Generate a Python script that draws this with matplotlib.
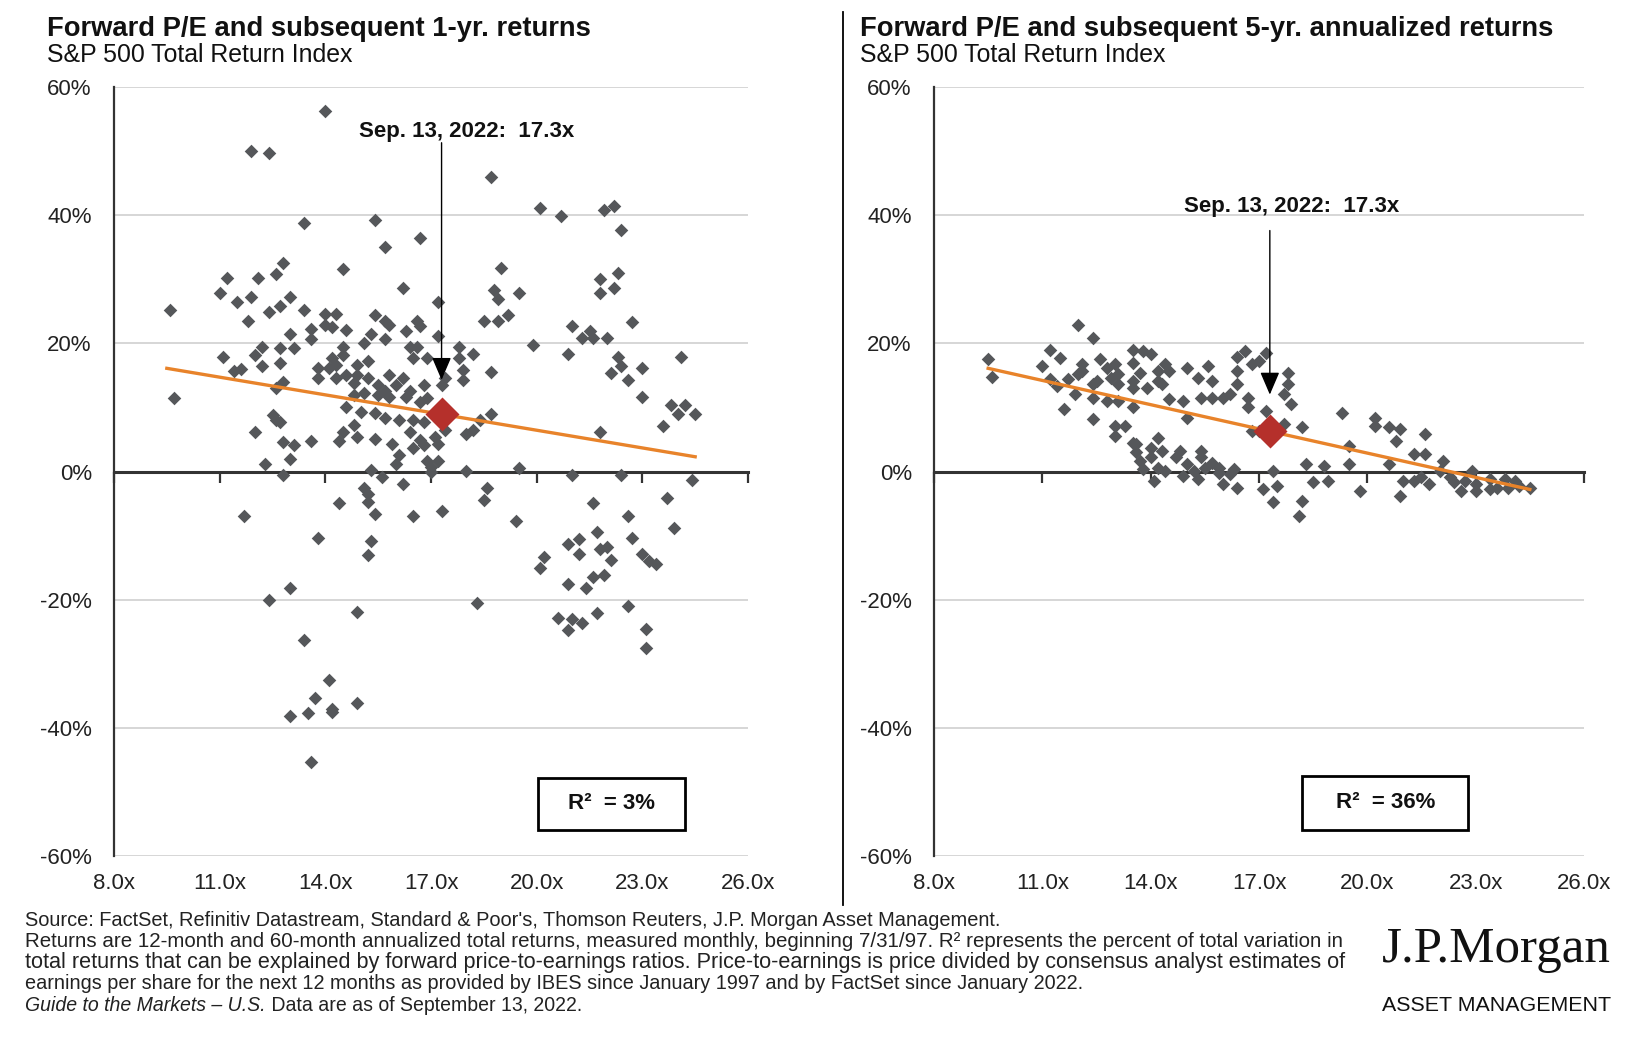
import matplotlib
matplotlib.use('Agg')
import matplotlib.pyplot as plt
from matplotlib import font_manager
from matplotlib.patches import Rectangle
from matplotlib.lines import Line2D

plt.rcParams['font.family'] = ['Liberation Sans', 'DejaVu Sans']

# forward P/E vs subsequent 1-yr return (%)
pe_1yr = [14.0, 11.9, 12.4, 18.7, 20.1, 20.7, 21.9, 22.2, 22.4, 13.4, 15.4, 16.7, 15.7, 14.5,
          12.8, 12.6, 12.1, 11.2, 11.0, 11.5, 11.9, 13.0, 12.7, 12.4, 13.4, 11.8, 9.6, 9.7,
          16.2, 19.0, 18.8, 18.9, 19.5, 22.3, 21.8, 22.2, 21.8, 18.5, 18.9, 19.2, 22.7, 21.0,
          21.5, 21.3, 22.0, 21.6, 19.9, 20.9, 22.3, 22.4, 22.1, 23.0, 22.6, 24.1, 23.0, 23.8,
          24.2, 24.0, 24.5, 23.6, 21.8, 24.4, 22.4, 21.0, 19.5, 18.0, 18.6, 18.7, 18.7, 18.2,
          17.8, 17.8, 17.9, 17.9, 17.2, 17.2, 16.6, 16.7, 16.3, 16.4, 16.6, 16.5, 16.9, 15.4,
          15.7, 15.8, 15.3, 15.7, 15.1, 14.6, 14.0, 14.3, 14.0, 14.2, 13.6, 13.6, 13.0, 13.1,
          12.7, 12.2, 12.0, 12.2, 12.7, 11.1, 11.4, 11.6, 12.6, 12.8, 14.5, 14.5, 14.2, 13.8,
          13.8, 14.1, 14.3, 14.3, 14.6, 14.9, 15.2, 14.9, 14.8, 15.2, 15.5, 15.8, 16.2, 16.0,
          15.7, 16.4, 16.8, 17.3, 17.4, 14.8, 15.1, 15.5, 15.8, 16.3, 16.7, 16.9, 14.6, 15.0,
          15.4, 15.7, 16.1, 16.5, 16.8, 14.8, 14.5, 14.9, 15.4, 15.9, 16.4, 16.7, 17.1, 17.4,
          18.0, 18.2, 18.4, 16.5, 16.8, 17.2, 16.1, 16.0, 16.9, 17.2, 17.0, 17.0, 15.3, 15.6,
          15.1, 16.2, 12.8, 13.0, 12.3, 13.1, 12.8, 13.6, 12.0, 14.4, 12.5, 12.6, 12.7,
          15.2, 15.2, 14.4, 15.4, 16.5, 17.3, 18.5, 19.4, 11.7, 21.6, 23.7, 22.6, 23.9, 13.8,
          15.3, 15.2, 20.9, 21.2, 21.2, 21.7, 21.8, 22.0, 22.1, 22.7, 23.0, 23.2, 23.4, 20.2,
          20.1, 20.9, 21.4, 21.6, 21.9, 13.0, 12.4, 18.3, 14.9, 20.6, 21.0, 21.3, 20.9, 21.7,
          22.6, 23.1, 23.1, 13.4, 14.1, 13.7, 13.5, 13.0, 14.2, 14.2, 14.9, 13.6]
ret_1yr = [56.3, 50.0, 49.7, 46.0, 41.1, 39.9, 40.8, 41.4, 37.7, 38.7, 39.2, 36.5, 35.1, 31.6,
           32.5, 30.8, 30.2, 30.2, 27.9, 26.5, 27.3, 27.3, 25.8, 24.9, 25.2, 23.5, 25.2, 11.5,
           28.7, 31.8, 28.3, 26.9, 27.9, 31.0, 30.0, 28.7, 27.9, 23.5, 23.5, 24.4, 23.3, 22.7,
           21.9, 20.8, 20.8, 20.8, 19.8, 18.3, 17.8, 16.5, 15.4, 16.2, 14.3, 17.8, 11.7, 10.3,
           10.4, 8.9, 8.9, 7.1, 6.1, -1.3, -0.6, -0.6, 0.6, 0.1, -2.6, 8.9, 15.5, 18.3,
           19.5, 17.7, 15.9, 14.3, 26.5, 21.2, 23.5, 22.7, 21.9, 19.5, 19.5, 17.7, 17.7, 24.4,
           23.5, 22.9, 21.5, 20.6, 20.1, 22.1, 24.5, 24.6, 22.9, 22.5, 22.3, 20.6, 21.5, 19.3,
           19.3, 19.4, 18.2, 16.5, 16.9, 17.8, 15.7, 16.0, 13.0, 14.0, 19.5, 18.2, 17.7, 16.1,
           14.6, 16.1, 16.6, 14.6, 15.1, 16.6, 17.2, 15.1, 13.8, 14.6, 13.5, 15.1, 14.6, 13.5,
           12.5, 12.5, 13.5, 13.5, 14.6, 11.9, 12.2, 11.9, 11.7, 11.7, 10.9, 11.4, 10.1, 9.3,
           9.1, 8.3, 8.0, 8.0, 7.7, 7.2, 6.2, 5.4, 5.0, 4.3, 6.1, 4.9, 5.4, 6.4,
           5.9, 6.4, 8.0, 3.6, 4.1, 4.3, 2.5, 1.2, 1.7, 1.7, 0.7, -0.1, 0.2, -0.9,
           -2.5, -2.0, -0.6, 2.0, 1.2, 4.1, 4.6, 4.8, 6.2, 4.8, 8.8, 8.0, 7.7,
           -3.5, -4.7, -4.9, -6.7, -7.0, -6.2, -4.5, -7.8, -7.0, -4.9, -4.1, -7.0, -8.8, -10.4,
           -10.9, -13.0, -11.3, -10.6, -12.8, -9.5, -12.1, -11.8, -13.8, -10.4, -12.9, -13.9, -14.4, -13.3,
           -15.1, -17.6, -18.2, -16.4, -16.1, -18.2, -20.0, -20.5, -22.0, -22.8, -23.0, -23.6, -24.8, -22.1,
           -21.0, -24.5, -27.6, -26.3, -32.5, -35.4, -37.7, -38.2, -37.1, -37.6, -36.2, -45.4]

# forward P/E vs subsequent 5-yr annualized return (%)
pe_5yr = [9.5, 9.6, 11.2, 11.5, 12.0, 12.4, 11.0, 11.2, 11.4, 11.6, 11.7, 11.9, 12.1, 12.1,
          12.4, 12.4, 12.4, 12.6, 12.8, 12.9, 12.8, 13.0, 13.1, 13.1, 13.0, 13.3, 13.0, 13.5,
          13.8, 14.0, 13.5, 13.7, 13.5, 13.5, 13.5, 13.9, 14.2, 14.4, 14.5, 14.5, 14.2, 13.5,
          13.6, 13.7, 14.0, 14.2, 14.1, 14.3, 14.7, 14.8, 15.0, 15.2, 15.4, 15.5, 15.7, 15.9,
          16.3, 16.0, 16.4, 15.0, 15.0, 14.9, 15.3, 15.4, 15.6, 15.7, 15.7, 16.0, 16.2, 16.4,
          16.6, 16.4, 16.4, 16.7, 16.7, 16.8, 17.0, 17.2, 17.0, 16.8, 17.2, 17.7, 17.8, 17.7,
          17.9, 17.8, 17.1, 17.5, 17.4, 17.4, 18.1, 18.2, 18.2, 18.3, 18.5, 18.8, 18.9, 19.3,
          19.5, 19.5, 19.8, 20.2, 20.2, 20.6, 20.9, 20.8, 20.6, 21.0, 20.9, 21.3, 21.6, 21.6,
          21.3, 21.5, 21.7, 22.0, 22.1, 22.3, 22.6, 22.7, 22.9, 23.0, 23.0, 23.4, 23.6, 23.8,
          23.9, 24.1, 24.2, 24.5, 22.4, 23.4, 13.8, 14.4, 14.9, 15.3, 15.4, 15.9, 16.2, 13.6,
          14.0, 12.5, 12.0, 13.1, 14.2, 14.3]
ret_5yr = [17.5, 14.8, 18.9, 17.7, 22.9, 20.8, 16.4, 14.4, 13.4, 9.8, 14.4, 12.1, 15.7, 16.7,
           13.6, 11.5, 8.2, 17.5, 16.2, 14.6, 11.0, 16.7, 13.6, 11.0, 7.1, 7.1, 5.6, 18.9,
           18.8, 18.4, 17.0, 15.4, 14.1, 13.1, 10.0, 13.1, 14.1, 16.7, 15.7, 11.3, 5.3, 4.5,
           3.0, 1.7, 2.2, 0.6, -1.5, 3.2, 2.2, 3.2, 1.1, 0.1, 2.2, 0.6, 1.4, 0.6,
           0.4, -2.0, -2.6, 16.2, 8.4, 11.0, 14.6, 11.5, 16.5, 14.1, 11.5, 11.5, 12.1, 17.8,
           18.8, 15.7, 13.6, 11.5, 10.0, 16.7, 17.2, 18.5, 6.3, 6.3, 9.5, 7.4, 15.4, 12.1,
           10.5, 13.6, -2.8, -2.2, 0.1, -4.8, -6.9, -4.6, 6.9, 1.1, -1.7, 0.9, -1.5, 9.2,
           4.0, 1.1, -3.1, 8.4, 7.1, 6.9, 6.6, 4.8, 1.1, -1.5, -3.8, 2.7, 5.8, 2.7,
           -1.5, -0.9, -2.0, 0.1, 1.7, -0.9, -3.0, -1.5, 0.1, -2.0, -3.0, -1.2, -2.5, -1.2,
           -2.5, -1.5, -2.2, -2.5, -1.7, -2.8, 0.4, 0.1, -0.7, -1.2, 3.2, -0.2, -0.4, 4.3,
           3.7, 14.1, 15.2, 15.2, 15.7, 13.6]

current_pe = 17.3
current_1yr = 9.0
current_5yr = 6.3
trend_pe = [9.5, 24.5]
trend_1yr = [16.1, 2.3]
trend_5yr = [16.1, -2.8]
r2_1yr = 3
r2_5yr = 36
x_ticks = [8, 11, 14, 17, 20, 23, 26]
y_ticks = [-60, -40, -20, 0, 20, 40, 60]

GRAY = '#55575a'
RED = '#b5302b'
ORANGE = '#e8832a'
W, H = 1632, 1038


def pick_narrow():
    try:
        font_manager.findfont('Liberation Sans Narrow', fallback_to_default=False)
        return 'Liberation Sans Narrow'
    except ValueError:
        return 'Liberation Sans'


NARROW = pick_narrow()

fig = plt.figure(figsize=(W / 100, H / 100), dpi=100)
renderer = fig.canvas.get_renderer()


def fit_text(x, y, s, width, size=12, **kw):
    # place text at pixel coords and scale its size to the wanted pixel width
    t = fig.text(x / W, 1 - y / H, s, fontsize=size, va='baseline', **kw)
    w = t.get_window_extent(renderer).width
    t.set_fontsize(size * width / w)
    return t


def draw_panel(ax, pe, ret, cur, trend_y, r2, label_xy, arrow, box):
    ax.set_xlim(8, 26)
    ax.set_ylim(-60, 60)
    ax.set_yticks(y_ticks)
    ax.set_yticklabels([f'{v}%' for v in y_ticks])
    ax.grid(axis='y', color='#d3d3d3', lw=1.3)
    ax.set_axisbelow(True)
    for s in ['top', 'right']:
        ax.spines[s].set_visible(False)
    ax.spines['left'].set_color('#333333')
    ax.spines['left'].set_linewidth(1.6)
    ax.spines['bottom'].set_position(('data', 0))
    ax.spines['bottom'].set_color('#333333')
    ax.spines['bottom'].set_linewidth(2.2)
    ax.set_xticks(x_ticks)
    ax.tick_params(axis='x', direction='out', length=8, width=1.6, color='#333333',
                   labelbottom=False)
    ax.tick_params(axis='y', length=0, pad=16, labelsize=16, labelcolor='#222222')

    sec = ax.secondary_xaxis(0)
    sec.set_xticks(x_ticks)
    sec.set_xticklabels([f'{v:.1f}x' for v in x_ticks])
    sec.tick_params(length=0, pad=12, labelsize=16, labelcolor='#222222')
    sec.spines['bottom'].set_visible(False)

    ax.scatter(pe, ret, marker='D', s=48, color=GRAY, linewidths=0, zorder=3)
    ax.plot(trend_pe, trend_y, color=ORANGE, lw=2.4, zorder=4)
    ax.scatter([current_pe], [cur], marker='D', s=300, color=RED, linewidths=0, zorder=5)

    ax.annotate('', xy=(current_pe, arrow[1]), xytext=(current_pe, arrow[0]),
                arrowprops=dict(arrowstyle='-|>,head_length=0.7,head_width=0.3',
                                color='black', lw=1, shrinkA=0, shrinkB=0,
                                mutation_scale=20), zorder=6)
    ax.text(label_xy[0], label_xy[1], f'Sep. 13, 2022:  {current_pe}x', ha='center',
            va='center', fontsize=16, fontweight='bold', color='#111111')

    x0, y0, bw, bh = box
    ax.add_patch(Rectangle((x0, y0), bw, bh, fill=True, fc='white', ec='black',
                           lw=2, zorder=6))
    ax.text(x0 + bw / 2, y0 + bh / 2, f'R²  = {r2}%', ha='center', va='center',
            fontsize=16, fontweight='bold', color='#111111', zorder=7)


ax1 = fig.add_axes([114 / W, 1 - 856 / H, 634 / W, 769 / H])
ax2 = fig.add_axes([934 / W, 1 - 856 / H, 650 / W, 769 / H])

draw_panel(ax1, pe_1yr, ret_1yr, current_1yr, trend_1yr, r2_1yr,
           (18.0, 53.0), (51.3, 14.3), (20.05, -55.9, 4.15, 8.1))
draw_panel(ax2, pe_5yr, ret_5yr, current_5yr, trend_5yr, r2_5yr,
           (17.9, 41.4), (37.6, 12.0), (18.2, -55.9, 4.6, 8.4))

# titles
fit_text(47, 36, 'Forward P/E and subsequent 1-yr. returns', 541, fontweight='bold',
         color='#111111')
fit_text(47, 62, 'S&P 500 Total Return Index', 307, color='#111111')
fit_text(860, 36, 'Forward P/E and subsequent 5-yr. annualized returns', 691,
         fontweight='bold', color='#111111')
fit_text(860, 62, 'S&P 500 Total Return Index', 307, color='#111111')

# divider
fig.add_artist(Line2D([843 / W, 843 / W], [1 - 12 / H, 1 - 905 / H], color='black',
                      lw=1.3, transform=fig.transFigure))

# footer
foot = dict(family=[NARROW, 'DejaVu Sans'], color='#222222')
fit_text(25, 926, 'Source: FactSet, Refinitiv Datastream, Standard & Poor\'s, Thomson '
         'Reuters, J.P. Morgan Asset Management.', 979, **foot)
fit_text(25, 947, 'Returns are 12-month and 60-month annualized total returns, measured '
         'monthly, beginning 7/31/97. R² represents the percent of total variation in',
         1325, **foot)
fit_text(25, 968, 'total returns that can be explained by forward price-to-earnings ratios. '
         'Price-to-earnings is price divided by consensus analyst estimates of', 1325, **foot)
fit_text(25, 989, 'earnings per share for the next 12 months as provided by IBES since '
         'January 1997 and by FactSet since January 2022.', 1057, **foot)

t_it = fig.text(25 / W, 1 - 1011 / H, 'Guide to the Markets – U.S.', fontsize=12,
                style='italic', va='baseline', **foot)
t_rest = fig.text(0, 1 - 1011 / H, ' Data are as of September 13, 2022.', fontsize=12,
                  va='baseline', **foot)
w_it = t_it.get_window_extent(renderer).width
w_rest = t_rest.get_window_extent(renderer).width
scale = 558 / (w_it + w_rest)
t_it.set_fontsize(12 * scale)
t_rest.set_fontsize(12 * scale)
t_rest.set_x((25 + w_it * scale) / W)

# logo
fit_text(1382, 962, 'J.P.Morgan', 229, family=['Liberation Serif', 'DejaVu Serif'],
         color='#111111')
fit_text(1382, 1011, 'ASSET MANAGEMENT', 229, family=[NARROW, 'DejaVu Sans'],
         fontweight='medium', color='#111111')

fig.savefig('out.png', dpi=100, facecolor='white')
